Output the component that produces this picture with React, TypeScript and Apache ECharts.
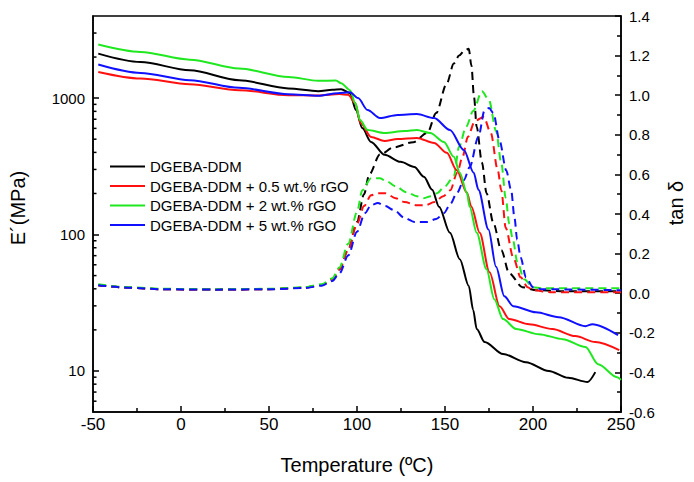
import React, { useEffect, useRef } from "react";
import * as echarts from "echarts";

// ---- Storage modulus E' (MPa) ----
const blackT = [-47, -23, 5, 33, 61, 78, 86, 91, 96, 99.4, 103, 108, 115.7, 124.7, 132.6, 138, 142.7, 146.6, 152.8, 158.4, 163.5, 166, 168, 172.5, 183, 196, 209, 220, 231, 235.4];
const blackE = [2120, 1840, 1600, 1353, 1178, 1125, 1150, 1163, 1088, 817, 603, 477, 384, 341, 313, 265, 213, 160, 103, 66, 42, 28, 20.3, 16.3, 13.3, 11.6, 10, 8.9, 8.3, 9.8];

const redT = [-47, -23, 5, 33, 61, 78, 90, 95, 99, 102, 108, 115.7, 123, 134, 143.8, 151, 156.7, 162.4, 165, 169.7, 175.3, 181, 186.5, 197.8, 211, 224, 235.4, 249];
const redE = [1556, 1393, 1265, 1144, 1051, 1045, 1070, 1060, 920, 658, 519, 485, 501, 511, 469, 397, 296, 203, 160, 103, 52.8, 29.8, 24, 22, 20.3, 18, 16.3, 14.2];

const greenT = [-47, -23, 5, 33, 61, 78, 88, 91, 96, 99, 101.7, 106, 115.7, 127, 134, 141.6, 149.4, 155, 158.4, 162.4, 164, 168, 173.6, 178, 183, 190.4, 203.4, 216.9, 229.8, 237, 247.8, 250];
const greenE = [2470, 2180, 1915, 1648, 1430, 1340, 1345, 1286, 1144, 920, 691, 584, 555, 574, 584, 555, 477, 371, 284, 203, 160, 103, 55.6, 33.6, 24, 20.3, 18.6, 17.1, 15, 11.2, 9.0, 8.6];

const blueT = [-47, -23, 5, 33, 61, 78, 89, 96, 100.6, 106, 113, 123, 134, 143.8, 152.8, 160.7, 166.3, 169, 174.7, 179, 183.7, 188.8, 201.7, 214.6, 229.8, 233.7, 248.3];
const blueE = [1763, 1530, 1353, 1189, 1069, 1040, 1088, 1106, 1000, 817, 714, 752, 764, 714, 584, 417, 284, 213, 109, 58, 35.3, 29.8, 26.9, 24.8, 21.3, 22, 18.3];

// ---- tan delta ----
const blackTanT = [-47, -30, -10, 20, 50, 70, 80, 86, 90, 95, 100, 104, 107, 113, 121, 132, 140, 145, 151, 155, 158, 161, 163.5, 165, 166.5, 168, 171, 173.6, 177.5, 182, 186.5, 194, 202, 220, 250];
const blackTan = [0.04, 0.028, 0.02, 0.018, 0.02, 0.028, 0.042, 0.07, 0.12, 0.22, 0.36, 0.5, 0.6, 0.7, 0.737, 0.763, 0.81, 0.91, 1.06, 1.16, 1.2, 1.225, 1.235, 1.15, 0.99, 0.84, 0.66, 0.505, 0.354, 0.217, 0.1, 0.03, 0.015, 0.01, 0.01];

const redTanT = [-47, -30, -10, 20, 50, 70, 80, 86, 90, 95, 100, 104, 108, 112, 116, 122, 127, 134, 139, 144, 149, 153, 157, 160, 163, 167, 172, 176, 180, 182, 184.5, 188.8, 193, 197, 200, 210, 250];
const redTan = [0.04, 0.028, 0.02, 0.018, 0.02, 0.028, 0.042, 0.07, 0.12, 0.22, 0.35, 0.44, 0.495, 0.505, 0.505, 0.48, 0.46, 0.444, 0.445, 0.46, 0.49, 0.52, 0.61, 0.69, 0.79, 0.87, 0.89, 0.81, 0.62, 0.52, 0.33, 0.18, 0.08, 0.03, 0.015, 0.005, 0.005];

const greenTanT = [-47, -30, -10, 20, 50, 70, 80, 86, 90, 95, 100, 103, 108, 113, 116, 122, 128, 134, 138, 142, 145.5, 150, 155, 158, 162, 166, 171, 175, 179, 182, 184.5, 186.5, 188.6, 191, 195, 200, 205, 250];
const greenTan = [0.045, 0.03, 0.022, 0.02, 0.022, 0.03, 0.045, 0.075, 0.13, 0.25, 0.41, 0.52, 0.58, 0.58, 0.57, 0.54, 0.51, 0.49, 0.48, 0.49, 0.505, 0.54, 0.59, 0.74, 0.84, 0.92, 1.02, 0.975, 0.82, 0.657, 0.48, 0.35, 0.27, 0.16, 0.07, 0.03, 0.025, 0.025];

const blueTanT = [-47, -30, -10, 20, 50, 70, 80, 86, 90, 95, 100, 104.5, 108, 111.8, 116, 121, 127, 132.6, 140, 145, 149.4, 153, 156.7, 160.7, 164, 169, 172.5, 175, 177.5, 181, 184.8, 187.6, 189.5, 191, 193, 196, 200, 205, 250];
const blueTan = [0.04, 0.028, 0.02, 0.018, 0.02, 0.026, 0.038, 0.062, 0.1, 0.19, 0.31, 0.404, 0.445, 0.455, 0.44, 0.42, 0.38, 0.36, 0.36, 0.375, 0.404, 0.45, 0.505, 0.57, 0.636, 0.79, 0.924, 0.935, 0.91, 0.77, 0.62, 0.52, 0.38, 0.27, 0.18, 0.08, 0.03, 0.02, 0.015];

const seriesNames = [
  "DGEBA-DDM",
  "DGEBA-DDM + 0.5 wt.% rGO",
  "DGEBA-DDM + 2 wt.% rGO",
  "DGEBA-DDM + 5 wt.% rGO",
];
const colors = ["#000000", "#ff1010", "#20e820", "#1010ff"];

// minor tick values of the logarithmic E' axis
const logMinorTicks = [6, 7, 8, 9, 20, 30, 40, 50, 60, 70, 80, 90, 200, 300, 400, 500, 600, 700, 800, 900, 2000, 3000];

const FONT = "'Liberation Sans', Arial, sans-serif";

const zip = (t: number[], v: number[]) => t.map((x, i) => [x, v[i]]);

export default function App() {
  const ref = useRef<HTMLDivElement>(null);
  useEffect(() => {
    if (!ref.current) return;
    const chart = echarts.init(ref.current, undefined, { renderer: "svg" });
    const axisLineStyle = { color: "#000", width: 1.5 };
    const solid = [
      zip(blackT, blackE),
      zip(redT, redE),
      zip(greenT, greenE),
      zip(blueT, blueE),
    ];
    const dashed = [
      zip(blackTanT, blackTan),
      zip(redTanT, redTan),
      zip(greenTanT, greenTan),
      zip(blueTanT, blueTan),
    ];
    const series: any[] = [];
    dashed.forEach((d, i) => {
      series.push({
        type: "line",
        name: "tan " + i,
        yAxisIndex: 1,
        data: d,
        showSymbol: false,
        smooth: 0.3,
        smoothMonotone: "x",
        lineStyle: { color: colors[i], width: 2, type: [8, 5] },
        itemStyle: { color: colors[i] },
        z: 2,
      });
    });
    solid.forEach((d, i) => {
      series.push({
        type: "line",
        name: seriesNames[i],
        yAxisIndex: 0,
        data: d,
        showSymbol: false,
        smooth: 0.3,
        smoothMonotone: "x",
        lineStyle: { color: colors[i], width: 2 },
        itemStyle: { color: colors[i] },
        z: 3,
      });
    });
    series.push({
      type: "custom",
      name: "minorTicks",
      yAxisIndex: 0,
      silent: true,
      data: logMinorTicks.map((v) => [-50, v]),
      encode: { x: 0, y: 1 },
      renderItem: (params: any, api: any) => {
        const p = api.coord([api.value(0), api.value(1)]);
        return {
          type: "line",
          shape: { x1: p[0], y1: p[1], x2: p[0] + 3.5, y2: p[1] },
          style: { stroke: "#000", lineWidth: 1.5 },
        };
      },
      z: 4,
    });

    chart.setOption({
      animation: false,
      backgroundColor: "#fff",
      textStyle: { fontFamily: FONT },
      grid: {
        left: 92,
        right: 68,
        top: 16,
        bottom: 70,
        show: true,
        borderColor: "#000",
        borderWidth: 1.5,
        backgroundColor: "transparent",
      },
      legend: {
        data: seriesNames,
        orient: "vertical",
        left: 105,
        top: 153,
        itemWidth: 35,
        itemHeight: 2,
        itemGap: 2.5,
        icon: "rect",
        textStyle: { fontSize: 15, color: "#000", fontFamily: FONT, lineHeight: 17 },
      },
      xAxis: {
        type: "value",
        min: -50,
        max: 250,
        interval: 50,
        name: "Temperature (ºC)",
        nameLocation: "middle",
        nameGap: 43,
        nameTextStyle: { fontSize: 20, color: "#000", fontFamily: FONT },
        axisLine: { show: true, onZero: false, lineStyle: axisLineStyle },
        axisTick: { show: true, inside: true, length: 6, lineStyle: axisLineStyle },
        minorTick: { show: true, splitNumber: 2, length: 4, lineStyle: axisLineStyle },
        splitLine: { show: false },
        minorSplitLine: { show: false },
        axisLabel: { fontSize: 17, color: "#000", margin: 4, fontFamily: FONT },
      },
      yAxis: [
        {
          type: "log",
          logBase: 10,
          min: 5,
          max: 4000,
          position: "left",
          name: "E´(MPa)",
          nameLocation: "middle",
          nameGap: 65,
          nameRotate: 90,
          nameTextStyle: { fontSize: 20, color: "#000", fontFamily: FONT, padding: [0, 0, 0, 12] },
          axisLine: { show: true, onZero: false, lineStyle: axisLineStyle },
          axisTick: { show: true, inside: true, length: 6, lineStyle: axisLineStyle },
          splitLine: { show: false },
          axisLabel: {
            fontSize: 15,
            color: "#000",
            margin: 8,
            fontFamily: FONT,
            showMinLabel: false,
            showMaxLabel: false,
            formatter: (v: number) => String(Math.round(v)),
          },
        },
        {
          type: "value",
          min: -0.6,
          max: 1.4,
          interval: 0.2,
          position: "right",
          name: "tan δ",
          nameLocation: "middle",
          nameGap: 45,
          nameRotate: 90,
          nameTextStyle: { fontSize: 20, color: "#000", fontFamily: FONT, padding: [0, 0, 0, 22] },
          axisLine: { show: true, onZero: false, lineStyle: axisLineStyle },
          axisTick: { show: true, inside: true, length: 6, lineStyle: axisLineStyle },
          minorTick: { show: true, splitNumber: 2, length: 4, lineStyle: axisLineStyle },
          splitLine: { show: false },
          minorSplitLine: { show: false },
          axisLabel: {
            fontSize: 15,
            color: "#000",
            margin: 8,
            fontFamily: FONT,
            formatter: (v: number) => (Math.abs(v) < 1e-9 ? "0.0" : v.toFixed(1)),
          },
        },
      ],
      series,
    });
    return () => chart.dispose();
  }, []);
  return (
    <div
      ref={ref}
      style={{ position: "fixed", left: 0, top: 0, width: 694, height: 482, background: "#fff" }}
    />
  );
}
